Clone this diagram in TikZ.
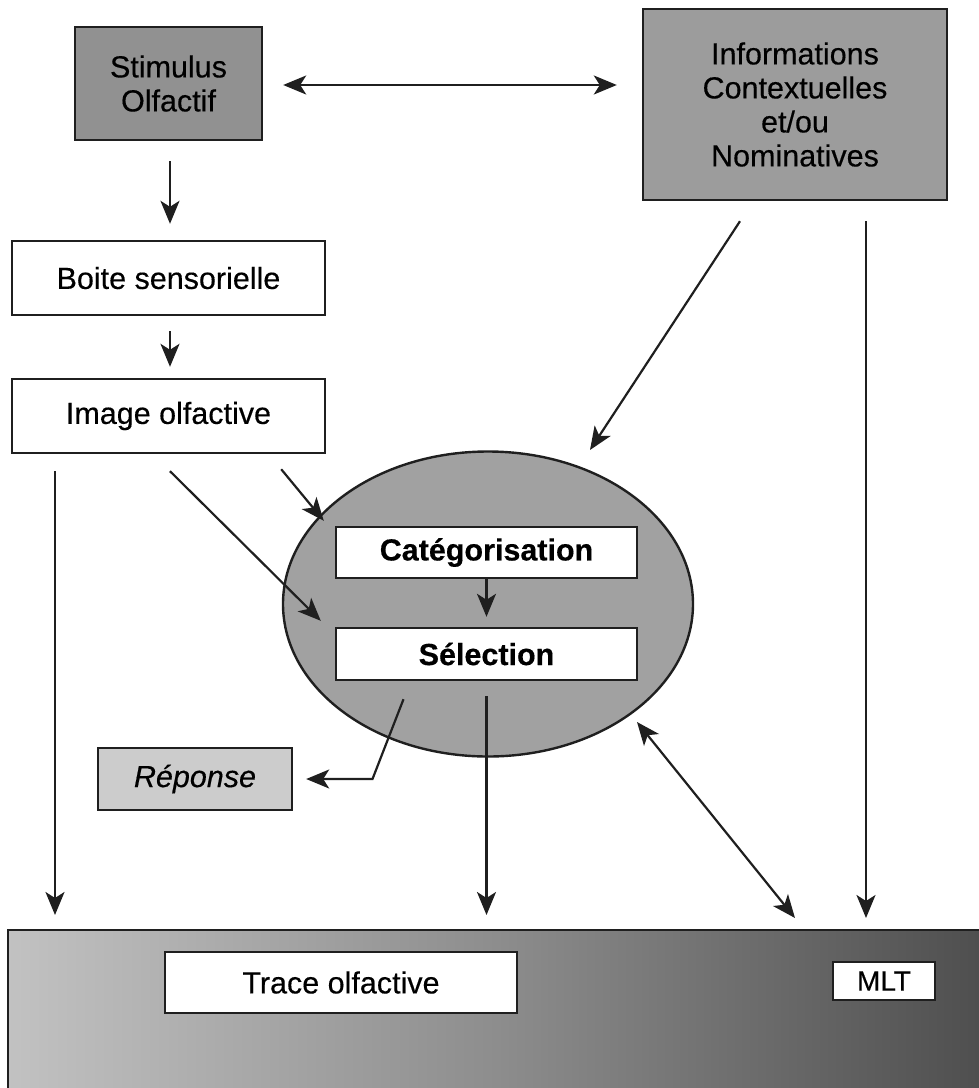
\documentclass[tikz,border=0pt]{standalone}
\usepackage{fontspec}
\setmainfont[FakeBold=0.35]{Liberation Sans}
\usetikzlibrary{arrows.meta,shapes.geometric,calc}
\definecolor{linec}{gray}{0.12}
\definecolor{stimc}{gray}{0.57}
\definecolor{infoc}{gray}{0.61}
\definecolor{ellc}{gray}{0.63}
\definecolor{repc}{gray}{0.80}
\definecolor{bandl}{gray}{0.76}
\definecolor{bandm}{gray}{0.55}
\definecolor{bandr}{gray}{0.30}
\tikzset{
  basebox/.style={rectangle, draw=linec, line width=2.4pt, inner sep=0pt, align=center,
    font=\fontsize{30.5}{34}\selectfont, text=black},
  wbox/.style={basebox, fill=white},
  gbox/.style={basebox, fill=stimc},
  conn/.style={draw=linec, line width=2.2pt, -{Stealth[length=23pt,width=19pt,inset=6pt]}},
  conntwo/.style={draw=linec, line width=2.2pt, {Stealth[length=23pt,width=19pt,inset=6pt]}-{Stealth[length=23pt,width=19pt,inset=6pt]}}
}
\begin{document}
\begin{tikzpicture}[x=1pt,y=-1pt]
\useasboundingbox (0,0) rectangle (979,1088);
% bottom band
\node[rectangle, draw=linec, line width=2.4pt, left color=bandl, right color=bandr, middle color=bandm,
      minimum width=990pt, minimum height=180pt, anchor=north west, inner sep=0pt] (band) at (7,929) {};
\node[wbox, minimum width=352pt, minimum height=61pt] (trace) at (341,982.5) {Trace olfactive};
\node[wbox, minimum width=102pt, minimum height=38pt, font=\fontsize{28}{30}\selectfont] (mlt) at (884,981) {MLT};
% top boxes
\node[gbox, minimum width=187pt, minimum height=113pt] (stim) at (168.5,83.5) {Stimulus\\Olfactif};
\node[gbox, fill=infoc, minimum width=304pt, minimum height=191pt] (info) at (795,104.5) {Informations\\Contextuelles\\et/ou\\Nominatives};
\node[wbox, minimum width=313pt, minimum height=74pt] (boite) at (168.5,278) {Boite sensorielle};
\node[wbox, minimum width=313pt, minimum height=74pt] (image) at (168.5,416) {Image olfactive};
% ellipse
\node[ellipse, draw=linec, line width=2.4pt, fill=ellc, minimum width=410pt, minimum height=305pt, inner sep=0pt] (ell) at (488,604) {};
\node[wbox, minimum width=301pt, minimum height=51pt, font=\bfseries\fontsize{30.5}{34}\selectfont] (cat) at (486.5,552.5) {Catégorisation};
\node[wbox, minimum width=301pt, minimum height=52pt, font=\bfseries\fontsize{30.5}{34}\selectfont] (sel) at (486.5,654) {Sélection};
\node[gbox, fill=repc, minimum width=194pt, minimum height=62pt, font=\itshape\fontsize{30.5}{34}\selectfont] (rep) at (195,779) {Réponse};
% helper coordinates
\coordinate (rk) at ($(sel.south)+(-114,0)$);
\coordinate (lx) at ($(image.south)+(-113.5,0)$);
\coordinate (rx) at ($(info.south)+(71,0)$);
% connectors
\draw[conntwo] ($(stim.east)+(20,1.5)$) -- ($(stim.east -| info.west)+(-25,1.5)$);
\draw[conn] ($(stim.south)+(1.5,20)$) -- ($(boite.north)+(1.5,-16)$);
\draw[conn] ($(boite.south)+(1.5,15)$) -- ($(image.north)+(1.5,-11)$);
\draw[conn] ($(image.south east)+(-45,15)$) -- ($(cat.north west)+(-11,-5)$);
\draw[conn] ($(image.south)+(1.5,17)$) -- ($(sel.north west)+(-14,-6)$);
\draw[conn] (cat.south) -- ($(sel.north)+(0,-10)$);
\draw[conn] ($(sel.south)+(-83,18)$) -- (rk |- rep.east) -- ($(rep.east)+(13,0)$);
\draw[conn] ($(sel.south)+(0,15)$) -- ($(sel.south |- band.north)+(0,-14)$);
\draw[conn] ($(lx)+(0,17)$) -- ($(lx |- band.north)+(0,-14)$);
\draw[conntwo] ($(ell.center)+(149,118)$) -- ($(band.north west)+(788,-11)$);
\draw[conn] ($(rx)+(0,20)$) -- ($(rx |- band.north)+(0,-11)$);
\draw[conn] ($(info.south)+(-55,20)$) -- ($(ell.center)+(102,-154)$);
\end{tikzpicture}
\end{document}
